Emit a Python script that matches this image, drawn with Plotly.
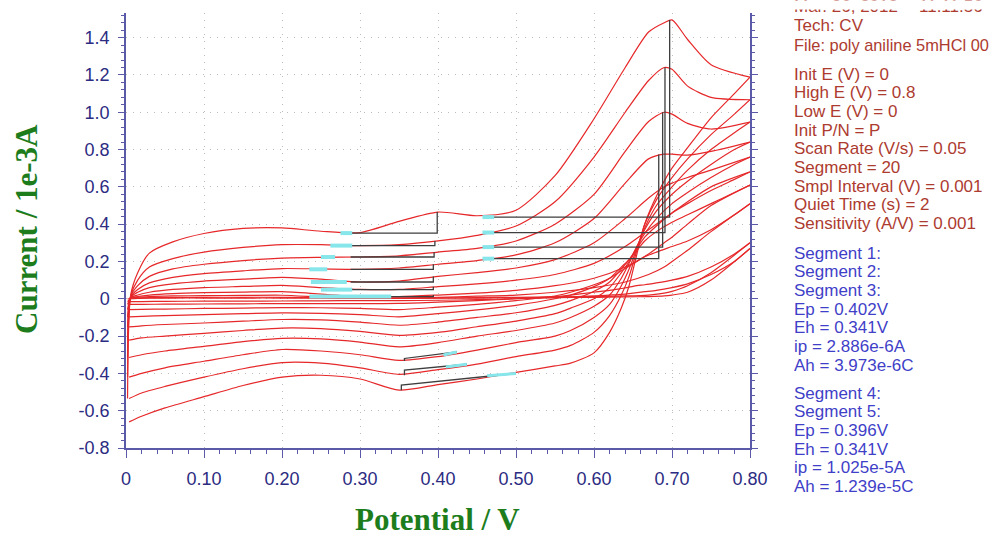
import plotly.graph_objects as go

# ---------------------------------------------------------------------------
# Cyclic voltammetry of aniline in 5 mM HCl, 10 cycles (20 segments)
# Potential in V, current in 1e-3 A
# ---------------------------------------------------------------------------

# anodic (forward) sweep potentials
XF = [0.002, 0.006, 0.015, 0.03, 0.06, 0.10, 0.15, 0.20, 0.25, 0.30, 0.35, 0.40,
      0.45, 0.50, 0.55, 0.60, 0.64, 0.67, 0.69, 0.70, 0.72, 0.75, 0.80]

fwd_c1 = [0.0, 0.0, 0.002, 0.003, 0.004, 0.004, 0.004, 0.004, 0.003, 0.002, 0.002, 0.003,
          0.004, 0.005, 0.006, 0.008, 0.01, 0.012, 0.015, 0.02, 0.035, 0.1, 0.27]
fwd_c2 = [-0.015, 0.001, 0.004, 0.006, 0.007, 0.008, 0.008, 0.008, 0.006, 0.004, 0.004, 0.005,
          0.006, 0.008, 0.01, 0.012, 0.015, 0.02, 0.03, 0.04, 0.07, 0.14, 0.30]
fwd_c3 = [-0.03, 0.002, 0.008, 0.012, 0.015, 0.017, 0.018, 0.019, 0.01, 0.003, 0.003, 0.008,
          0.014, 0.02, 0.035, 0.06, 0.09, 0.13, 0.17, 0.2, 0.26, 0.36, 0.51]
fwd_c4 = [-0.058, 0.003, 0.012, 0.02, 0.028, 0.033, 0.036, 0.038, 0.025, 0.012, 0.012, 0.02,
          0.03, 0.045, 0.07, 0.11, 0.17, 0.24, 0.3, 0.33, 0.4, 0.5, 0.61]
fwd_c5 = [-0.097, 0.005, 0.02, 0.035, 0.05, 0.06, 0.066, 0.072, 0.06, 0.05, 0.05, 0.065,
          0.08, 0.1, 0.13, 0.19, 0.28, 0.37, 0.43, 0.46, 0.52, 0.6, 0.68]
fwd_c6 = [-0.151, 0.008, 0.035, 0.06, 0.08, 0.095, 0.105, 0.115, 0.105, 0.09, 0.095, 0.12,
          0.14, 0.165, 0.21, 0.3, 0.43, 0.54, 0.6, 0.62, 0.65, 0.69, 0.76]
fwd_c7 = [-0.222, 0.01, 0.05, 0.085, 0.115, 0.135, 0.15, 0.162, 0.16, 0.158, 0.165, 0.185,
          0.205, 0.235, 0.3, 0.43, 0.62, 0.75, 0.775, 0.775, 0.77, 0.79, 0.84]
fwd_c8 = [-0.315, 0.012, 0.07, 0.12, 0.16, 0.185, 0.205, 0.218, 0.222, 0.224, 0.23, 0.25,
          0.27, 0.31, 0.4, 0.56, 0.79, 0.95, 1.0, 0.99, 0.94, 0.91, 0.947]
fwd_c9 = [-0.42, 0.015, 0.1, 0.17, 0.215, 0.25, 0.275, 0.29, 0.29, 0.285, 0.29, 0.31,
          0.34, 0.39, 0.52, 0.76, 1.0, 1.17, 1.24, 1.23, 1.14, 1.08, 1.067]
fwd_c10 = [-0.535, 0.02, 0.14, 0.245, 0.305, 0.35, 0.377, 0.38, 0.362, 0.355, 0.415, 0.465,
           0.445, 0.475, 0.66, 0.965, 1.24, 1.43, 1.48, 1.495, 1.39, 1.255, 1.188]

# cathodic (reverse) sweep potentials
XR = [0.80, 0.78, 0.75, 0.72, 0.70, 0.68, 0.665, 0.655, 0.645, 0.635, 0.62, 0.60, 0.57,
      0.55, 0.50, 0.45, 0.40, 0.35, 0.30, 0.25, 0.20, 0.15, 0.10, 0.05, 0.02, 0.004]

rev_c1 = [0.27, 0.2, 0.13, 0.08, 0.06, 0.045, 0.038, 0.033, 0.028, 0.024, 0.02, 0.015, 0.01,
          0.006, 0.0, -0.005, -0.008, -0.01, -0.01, -0.011, -0.012, -0.013, -0.013, -0.014, -0.015, -0.015]
rev_c2 = [0.30, 0.24, 0.17, 0.12, 0.1, 0.085, 0.075, 0.07, 0.062, 0.055, 0.045, 0.035, 0.02,
          0.012, 0.0, -0.01, -0.018, -0.025, -0.026, -0.026, -0.026, -0.027, -0.028, -0.029, -0.03, -0.03]
rev_c3 = [0.51, 0.45, 0.37, 0.31, 0.28, 0.25, 0.225, 0.2, 0.175, 0.15, 0.11, 0.075, 0.035,
          0.015, -0.01, -0.03, -0.045, -0.058, -0.052, -0.048, -0.047, -0.05, -0.052, -0.055, -0.057, -0.058]
rev_c4 = [0.61, 0.57, 0.51, 0.45, 0.41, 0.36, 0.31, 0.26, 0.21, 0.17, 0.11, 0.065, 0.02,
          0.0, -0.035, -0.06, -0.08, -0.097, -0.085, -0.078, -0.076, -0.08, -0.085, -0.09, -0.094, -0.097]
rev_c5 = [0.68, 0.64, 0.58, 0.51, 0.46, 0.39, 0.33, 0.27, 0.21, 0.16, 0.09, 0.04, -0.01,
          -0.035, -0.075, -0.1, -0.125, -0.142, -0.125, -0.113, -0.111, -0.12, -0.13, -0.138, -0.145, -0.151]
rev_c6 = [0.76, 0.72, 0.65, 0.57, 0.51, 0.43, 0.35, 0.28, 0.2, 0.14, 0.06, 0.0, -0.05,
          -0.08, -0.12, -0.15, -0.18, -0.196, -0.175, -0.16, -0.157, -0.17, -0.185, -0.2, -0.21, -0.222]
rev_c7 = [0.84, 0.8, 0.72, 0.63, 0.56, 0.47, 0.37, 0.28, 0.19, 0.11, 0.02, -0.04, -0.1,
          -0.13, -0.17, -0.2, -0.235, -0.258, -0.232, -0.215, -0.212, -0.23, -0.255, -0.28, -0.3, -0.315]
rev_c8 = [0.947, 0.89, 0.8, 0.69, 0.6, 0.5, 0.38, 0.27, 0.16, 0.07, -0.03, -0.1, -0.17,
          -0.2, -0.235, -0.275, -0.31, -0.33, -0.3, -0.28, -0.272, -0.3, -0.335, -0.37, -0.4, -0.42]
rev_c9 = [1.067, 0.99, 0.88, 0.75, 0.65, 0.53, 0.4, 0.26, 0.12, 0.02, -0.09, -0.18, -0.25,
          -0.275, -0.31, -0.35, -0.38, -0.405, -0.37, -0.345, -0.342, -0.375, -0.42, -0.47, -0.505, -0.535]
rev_c10 = [1.188, 1.1, 0.97, 0.81, 0.7, 0.55, 0.4, 0.24, 0.07, -0.05, -0.18, -0.29, -0.345,
           -0.36, -0.395, -0.43, -0.46, -0.49, -0.43, -0.41, -0.42, -0.465, -0.525, -0.585, -0.63, -0.66]

FWD = [fwd_c1, fwd_c2, fwd_c3, fwd_c4, fwd_c5, fwd_c6, fwd_c7, fwd_c8, fwd_c9, fwd_c10]
REV = [rev_c1, rev_c2, rev_c3, rev_c4, rev_c5, rev_c6, rev_c7, rev_c8, rev_c9, rev_c10]

# peak-analysis markers: first anodic wave (baselines and peak drops)
pa1_x0 = 0.288
pa1_xp = [0.399, 0.396, 0.395, 0.394, 0.394, 0.394, 0.394]
pa1_base = [0.352, 0.285, 0.224, 0.158, 0.09, 0.049, 0.012]
pa1_top = [0.465, 0.31, 0.25, 0.185, 0.12, 0.065, 0.02]
pa1_cyan_x0 = [0.275, 0.262, 0.25, 0.235, 0.237, 0.25, 0.235]
pa1_cyan_x1 = [0.29, 0.29, 0.268, 0.258, 0.283, 0.29, 0.34]

# second anodic wave
pa2_x0 = 0.465
pa2_xp = [0.697, 0.691, 0.688, 0.683]
pa2_base = [0.438, 0.355, 0.277, 0.215]
pa2_top = [1.495, 1.24, 1.0, 0.774]
pa2_cyan = [0.457, 0.472]

# cathodic wave
pc_xp = [0.353, 0.357, 0.357]
pc_bottom = [-0.49, -0.41, -0.333]
pc_base0 = [-0.463, -0.383, -0.32]
pc_x1 = [0.50, 0.437, 0.424]
pc_base1 = [-0.40, -0.351, -0.285]
pc_cyan_x0 = [0.463, 0.41, 0.407]
pc_cyan_y0 = [-0.413, -0.366, -0.301]

# axis ticks
XTICKS = [0, 0.1, 0.2, 0.3, 0.4, 0.5, 0.6, 0.7, 0.8]
XLABELS = ["0", "0.10", "0.20", "0.30", "0.40", "0.50", "0.60", "0.70", "0.80"]
YTICKS = [-0.8, -0.6, -0.4, -0.2, 0, 0.2, 0.4, 0.6, 0.8, 1.0, 1.2, 1.4]
YLABELS = ["-0.8", "-0.6", "-0.4", "-0.2", "0", "0.2", "0.4", "0.6", "0.8", "1.0", "1.2", "1.4"]

# instrument parameter panel
HEADER = [("Tech: CV", 26, 17), ("File: poly aniline 5mHCl 00", 45, 16.4)]
PARAMS = ["Init E (V) = 0", "High E (V) = 0.8", "Low E (V) = 0", "Init P/N = P",
          "Scan Rate (V/s) = 0.05", "Segment = 20", "Smpl Interval (V) = 0.001",
          "Quiet Time (s) = 2", "Sensitivity (A/V) = 0.001"]
RESULTS_A = ["Segment 1:", "Segment 2:", "Segment 3:", "Ep = 0.402V", "Eh = 0.341V",
             "ip = 2.886e-6A", "Ah = 3.973e-6C"]
RESULTS_B = ["Segment 4:", "Segment 5:", "Ep = 0.396V", "Eh = 0.341V",
             "ip = 1.025e-5A", "Ah = 1.239e-5C"]

# ---------------------------------------------------------------------------
W, H = 994, 538
L, R, T, B = 126, 750, 13, 448
RED = "#e6282a"
BLK = "#3e3e3e"
CYAN = "#86e6ea"
AXC = "#5a5aa8"
LAB = "#2c2c82"
GREEN = "#1d7d1d"
BROWN = "#ad3b30"
BLUE = "#3f3fc8"
SANS = "Liberation Sans, Arial, sans-serif"


def px_x(px):
    return (px - L) / (R - L)


def px_y(py):
    return (B - py) / (B - T)


fig = go.Figure()

for yv in FWD:
    fig.add_trace(go.Scatter(x=XF, y=yv, mode="lines",
                             line=dict(color=RED, width=1.2, shape="spline", smoothing=0.7),
                             hoverinfo="skip"))
for yv in REV:
    fig.add_trace(go.Scatter(x=XR, y=yv, mode="lines",
                             line=dict(color=RED, width=1.2, shape="spline", smoothing=0.7),
                             hoverinfo="skip"))


def seg(xs, ys, color, width):
    fig.add_trace(go.Scatter(x=xs, y=ys, mode="lines",
                             line=dict(color=color, width=width), hoverinfo="skip"))


# first anodic wave markers
for xp, yb, yt in zip(pa1_xp, pa1_base, pa1_top):
    seg([pa1_x0, xp, xp], [yb, yb, yt], BLK, 1.3)
# second anodic wave markers
for xp, yb, yt in zip(pa2_xp, pa2_base, pa2_top):
    seg([pa2_x0, xp, xp], [yb, yb, yt], BLK, 1.3)
# cathodic wave markers
for xp, yb, y0, x1, y1 in zip(pc_xp, pc_bottom, pc_base0, pc_x1, pc_base1):
    seg([xp, xp, x1], [yb, y0, y1], BLK, 1.3)

# highlighted integration limits
for x0, x1, yb in zip(pa1_cyan_x0, pa1_cyan_x1, pa1_base):
    seg([x0, x1], [yb, yb], CYAN, 4)
for yb in pa2_base:
    seg(pa2_cyan, [yb, yb], CYAN, 4)
for x0, y0, x1, y1 in zip(pc_cyan_x0, pc_cyan_y0, pc_x1, pc_base1):
    seg([x0, x1], [y0, y1], CYAN, 3)

tickfont = dict(family=SANS, size=18, color=LAB)

fig.update_xaxes(range=[0, 0.8], tickvals=XTICKS, ticktext=XLABELS, tickfont=tickfont,
                 showline=True, linecolor=AXC, linewidth=1.5, mirror=False,
                 ticks="outside", ticklen=8, tickwidth=1.3, tickcolor=AXC,
                 ticklabelstandoff=6,
                 minor=dict(tick0=0, dtick=0.02, ticks="outside", ticklen=4,
                            tickcolor=AXC, tickwidth=1, showgrid=False),
                 showgrid=True, gridcolor="#bdbdbd", gridwidth=1, griddash="1px,6px",
                 zeroline=False)
fig.update_yaxes(range=[-0.8, 1.532], tickvals=YTICKS, ticktext=YLABELS, tickfont=tickfont,
                 showline=True, linecolor=AXC, linewidth=1.5, mirror="allticks",
                 ticks="outside", ticklen=6, tickwidth=1.3, tickcolor=AXC,
                 ticklabelstandoff=5,
                 minor=dict(tick0=0, dtick=0.04, ticks="outside", ticklen=3,
                            tickcolor=AXC, tickwidth=1, showgrid=False),
                 showgrid=True, gridcolor="#bdbdbd", gridwidth=1, griddash="1px,6px",
                 zeroline=False)

ann = []
ann.append(dict(text="<b>Current / 1e-3A</b>", x=px_x(26), y=px_y(229), textangle=-90,
                font=dict(family="Liberation Serif, Times New Roman, serif", size=31,
                          color=GREEN)))
ann.append(dict(text="<b>Potential / V</b>", x=px_x(437), y=px_y(519),
                font=dict(family="Liberation Serif, Times New Roman, serif", size=31,
                          color=GREEN)))

pfont = dict(family=SANS, size=17, color=BROWN)
bfont = dict(family=SANS, size=17, color=BLUE)
TX = px_x(792)

# run date / time line at the top of the panel (upper part trimmed)
ann.append(dict(text="Mar. 26, 2012", x=TX, y=px_y(7), xanchor="left", font=pfont))
ann.append(dict(text="11:11:56", x=px_x(917), y=px_y(7), xanchor="left", font=pfont))
ann.append(dict(text=" ", x=px_x(785), y=px_y(0), xanchor="left", yanchor="top",
                width=205, height=8, bgcolor="white", borderpad=0))

for txt, yc, fs in HEADER:
    ann.append(dict(text=txt, x=TX, y=px_y(yc), xanchor="left",
                    font=dict(family=SANS, size=fs, color=BROWN)))
for i, txt in enumerate(PARAMS):
    ann.append(dict(text=txt, x=TX, y=px_y(74 + i * 18.7), xanchor="left", font=pfont))
for i, txt in enumerate(RESULTS_A):
    ann.append(dict(text=txt, x=TX, y=px_y(253 + i * 18.7), xanchor="left", font=bfont))
for i, txt in enumerate(RESULTS_B):
    ann.append(dict(text=txt, x=TX, y=px_y(393 + i * 18.7), xanchor="left", font=bfont))

for a in ann:
    a.update(xref="paper", yref="paper", showarrow=False)
    a.setdefault("yanchor", "middle")
    a.setdefault("xanchor", "center")

fig.update_layout(width=W, height=H, autosize=False,
                  margin=dict(l=L, r=W - R, t=T, b=H - B),
                  paper_bgcolor="white", plot_bgcolor="white",
                  showlegend=False, annotations=ann)

fig.write_html("out.html")
